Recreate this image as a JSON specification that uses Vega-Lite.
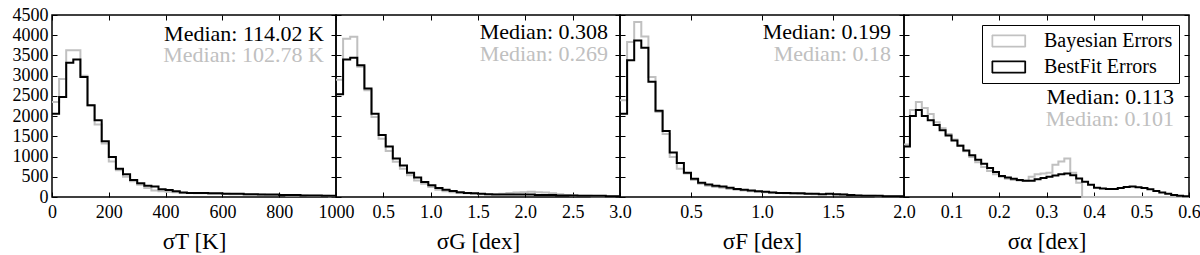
{
  "$schema": "https://vega.github.io/schema/vega-lite/v6.json",
  "padding": {"left": 11, "top": 5, "right": 0, "bottom": 0},
  "background": "white",
  "spacing": 0,
  "bounds": "flush",
  "resolve": {"scale": {"color": "independent"}, "legend": {"color": "independent"}},
  "config": {
    "font": "Liberation Serif",
    "view": {"stroke": "black", "strokeWidth": 1.5},
    "axis": {"domain": false, "grid": false, "ticks": true, "tickSize": -5, "tickColor": "black", "tickWidth": 1, "labelFont": "Liberation Serif", "labelFontSize": 18, "labelColor": "black", "labelFlush": false, "labelOverlap": false, "labelBound": false, "titleFont": "Liberation Serif", "titleFontSize": 23, "titleFontWeight": "normal", "titleColor": "black"},
    "axisX": {"labelPadding": 11, "titlePadding": 9},
    "axisY": {"labelPadding": 9},
    "legend": {"labelFont": "Liberation Serif"}
  },
  "datasets": {
    "hist": [
      {"p":1,"s":"Bayesian","x":0,"y":2350},{"p":1,"s":"Bayesian","x":25,"y":2920},{"p":1,"s":"Bayesian","x":50,"y":3630},{"p":1,"s":"Bayesian","x":75,"y":3630},{"p":1,"s":"Bayesian","x":100,"y":3000},{"p":1,"s":"Bayesian","x":125,"y":2260},{"p":1,"s":"Bayesian","x":150,"y":1790},{"p":1,"s":"Bayesian","x":175,"y":1320},{"p":1,"s":"Bayesian","x":200,"y":880},{"p":1,"s":"Bayesian","x":225,"y":660},{"p":1,"s":"Bayesian","x":250,"y":500},{"p":1,"s":"Bayesian","x":275,"y":390},{"p":1,"s":"Bayesian","x":300,"y":300},{"p":1,"s":"Bayesian","x":325,"y":220},{"p":1,"s":"Bayesian","x":350,"y":160},{"p":1,"s":"Bayesian","x":375,"y":140},{"p":1,"s":"Bayesian","x":400,"y":130},{"p":1,"s":"Bayesian","x":425,"y":120},{"p":1,"s":"Bayesian","x":450,"y":100},{"p":1,"s":"Bayesian","x":475,"y":100},{"p":1,"s":"Bayesian","x":500,"y":90},{"p":1,"s":"Bayesian","x":525,"y":90},{"p":1,"s":"Bayesian","x":550,"y":80},{"p":1,"s":"Bayesian","x":575,"y":80},{"p":1,"s":"Bayesian","x":600,"y":80},{"p":1,"s":"Bayesian","x":625,"y":70},{"p":1,"s":"Bayesian","x":650,"y":70},{"p":1,"s":"Bayesian","x":675,"y":60},{"p":1,"s":"Bayesian","x":700,"y":60},{"p":1,"s":"Bayesian","x":725,"y":60},{"p":1,"s":"Bayesian","x":750,"y":50},{"p":1,"s":"Bayesian","x":775,"y":50},{"p":1,"s":"Bayesian","x":800,"y":50},{"p":1,"s":"Bayesian","x":825,"y":40},{"p":1,"s":"Bayesian","x":850,"y":40},{"p":1,"s":"Bayesian","x":875,"y":40},{"p":1,"s":"Bayesian","x":900,"y":30},{"p":1,"s":"Bayesian","x":925,"y":30},{"p":1,"s":"Bayesian","x":950,"y":30},{"p":1,"s":"Bayesian","x":975,"y":20},{"p":1,"s":"Bayesian","x":1000,"y":20},
      {"p":1,"s":"BestFit","x":0,"y":2060},{"p":1,"s":"BestFit","x":25,"y":2470},{"p":1,"s":"BestFit","x":50,"y":3320},{"p":1,"s":"BestFit","x":75,"y":3400},{"p":1,"s":"BestFit","x":100,"y":2970},{"p":1,"s":"BestFit","x":125,"y":2270},{"p":1,"s":"BestFit","x":150,"y":1900},{"p":1,"s":"BestFit","x":175,"y":1380},{"p":1,"s":"BestFit","x":200,"y":990},{"p":1,"s":"BestFit","x":225,"y":700},{"p":1,"s":"BestFit","x":250,"y":560},{"p":1,"s":"BestFit","x":275,"y":420},{"p":1,"s":"BestFit","x":300,"y":340},{"p":1,"s":"BestFit","x":325,"y":280},{"p":1,"s":"BestFit","x":350,"y":260},{"p":1,"s":"BestFit","x":375,"y":190},{"p":1,"s":"BestFit","x":400,"y":170},{"p":1,"s":"BestFit","x":425,"y":140},{"p":1,"s":"BestFit","x":450,"y":110},{"p":1,"s":"BestFit","x":475,"y":100},{"p":1,"s":"BestFit","x":500,"y":100},{"p":1,"s":"BestFit","x":525,"y":100},{"p":1,"s":"BestFit","x":550,"y":90},{"p":1,"s":"BestFit","x":575,"y":90},{"p":1,"s":"BestFit","x":600,"y":80},{"p":1,"s":"BestFit","x":625,"y":80},{"p":1,"s":"BestFit","x":650,"y":80},{"p":1,"s":"BestFit","x":675,"y":70},{"p":1,"s":"BestFit","x":700,"y":70},{"p":1,"s":"BestFit","x":725,"y":60},{"p":1,"s":"BestFit","x":750,"y":60},{"p":1,"s":"BestFit","x":775,"y":60},{"p":1,"s":"BestFit","x":800,"y":50},{"p":1,"s":"BestFit","x":825,"y":50},{"p":1,"s":"BestFit","x":850,"y":50},{"p":1,"s":"BestFit","x":875,"y":40},{"p":1,"s":"BestFit","x":900,"y":40},{"p":1,"s":"BestFit","x":925,"y":40},{"p":1,"s":"BestFit","x":950,"y":30},{"p":1,"s":"BestFit","x":975,"y":30},{"p":1,"s":"BestFit","x":1000,"y":30},

      {"p":2,"s":"Bayesian","x":0,"y":2900},{"p":2,"s":"Bayesian","x":0.075,"y":3910},{"p":2,"s":"Bayesian","x":0.15,"y":3960},{"p":2,"s":"Bayesian","x":0.225,"y":3220},{"p":2,"s":"Bayesian","x":0.3,"y":2640},{"p":2,"s":"Bayesian","x":0.375,"y":1980},{"p":2,"s":"Bayesian","x":0.45,"y":1440},{"p":2,"s":"Bayesian","x":0.525,"y":1140},{"p":2,"s":"Bayesian","x":0.6,"y":870},{"p":2,"s":"Bayesian","x":0.675,"y":700},{"p":2,"s":"Bayesian","x":0.75,"y":540},{"p":2,"s":"Bayesian","x":0.825,"y":410},{"p":2,"s":"Bayesian","x":0.9,"y":330},{"p":2,"s":"Bayesian","x":0.975,"y":250},{"p":2,"s":"Bayesian","x":1.05,"y":180},{"p":2,"s":"Bayesian","x":1.125,"y":140},{"p":2,"s":"Bayesian","x":1.2,"y":115},{"p":2,"s":"Bayesian","x":1.275,"y":100},{"p":2,"s":"Bayesian","x":1.35,"y":90},{"p":2,"s":"Bayesian","x":1.425,"y":80},{"p":2,"s":"Bayesian","x":1.5,"y":70},{"p":2,"s":"Bayesian","x":1.575,"y":70},{"p":2,"s":"Bayesian","x":1.65,"y":70},{"p":2,"s":"Bayesian","x":1.725,"y":80},{"p":2,"s":"Bayesian","x":1.8,"y":100},{"p":2,"s":"Bayesian","x":1.875,"y":110},{"p":2,"s":"Bayesian","x":1.95,"y":120},{"p":2,"s":"Bayesian","x":2.025,"y":130},{"p":2,"s":"Bayesian","x":2.1,"y":120},{"p":2,"s":"Bayesian","x":2.175,"y":110},{"p":2,"s":"Bayesian","x":2.25,"y":90},{"p":2,"s":"Bayesian","x":2.325,"y":70},{"p":2,"s":"Bayesian","x":2.4,"y":50},{"p":2,"s":"Bayesian","x":2.475,"y":40},{"p":2,"s":"Bayesian","x":2.55,"y":30},{"p":2,"s":"Bayesian","x":2.625,"y":30},{"p":2,"s":"Bayesian","x":2.7,"y":20},{"p":2,"s":"Bayesian","x":2.775,"y":20},{"p":2,"s":"Bayesian","x":2.85,"y":20},{"p":2,"s":"Bayesian","x":2.925,"y":20},{"p":2,"s":"Bayesian","x":3.0,"y":20},
      {"p":2,"s":"BestFit","x":0,"y":2540},{"p":2,"s":"BestFit","x":0.075,"y":3400},{"p":2,"s":"BestFit","x":0.15,"y":3440},{"p":2,"s":"BestFit","x":0.225,"y":3260},{"p":2,"s":"BestFit","x":0.3,"y":2680},{"p":2,"s":"BestFit","x":0.375,"y":2060},{"p":2,"s":"BestFit","x":0.45,"y":1530},{"p":2,"s":"BestFit","x":0.525,"y":1250},{"p":2,"s":"BestFit","x":0.6,"y":950},{"p":2,"s":"BestFit","x":0.675,"y":780},{"p":2,"s":"BestFit","x":0.75,"y":600},{"p":2,"s":"BestFit","x":0.825,"y":480},{"p":2,"s":"BestFit","x":0.9,"y":370},{"p":2,"s":"BestFit","x":0.975,"y":290},{"p":2,"s":"BestFit","x":1.05,"y":220},{"p":2,"s":"BestFit","x":1.125,"y":180},{"p":2,"s":"BestFit","x":1.2,"y":150},{"p":2,"s":"BestFit","x":1.275,"y":120},{"p":2,"s":"BestFit","x":1.35,"y":100},{"p":2,"s":"BestFit","x":1.425,"y":90},{"p":2,"s":"BestFit","x":1.5,"y":80},{"p":2,"s":"BestFit","x":1.575,"y":70},{"p":2,"s":"BestFit","x":1.65,"y":60},{"p":2,"s":"BestFit","x":1.725,"y":60},{"p":2,"s":"BestFit","x":1.8,"y":60},{"p":2,"s":"BestFit","x":1.875,"y":60},{"p":2,"s":"BestFit","x":1.95,"y":60},{"p":2,"s":"BestFit","x":2.025,"y":60},{"p":2,"s":"BestFit","x":2.1,"y":50},{"p":2,"s":"BestFit","x":2.175,"y":50},{"p":2,"s":"BestFit","x":2.25,"y":50},{"p":2,"s":"BestFit","x":2.325,"y":40},{"p":2,"s":"BestFit","x":2.4,"y":40},{"p":2,"s":"BestFit","x":2.475,"y":40},{"p":2,"s":"BestFit","x":2.55,"y":30},{"p":2,"s":"BestFit","x":2.625,"y":30},{"p":2,"s":"BestFit","x":2.7,"y":30},{"p":2,"s":"BestFit","x":2.775,"y":30},{"p":2,"s":"BestFit","x":2.85,"y":20},{"p":2,"s":"BestFit","x":2.925,"y":20},{"p":2,"s":"BestFit","x":3.0,"y":20},

      {"p":3,"s":"Bayesian","x":0,"y":2390},{"p":3,"s":"Bayesian","x":0.05,"y":3830},{"p":3,"s":"Bayesian","x":0.1,"y":4330},{"p":3,"s":"Bayesian","x":0.15,"y":3970},{"p":3,"s":"Bayesian","x":0.2,"y":2970},{"p":3,"s":"Bayesian","x":0.25,"y":2100},{"p":3,"s":"Bayesian","x":0.3,"y":1560},{"p":3,"s":"Bayesian","x":0.35,"y":990},{"p":3,"s":"Bayesian","x":0.4,"y":700},{"p":3,"s":"Bayesian","x":0.45,"y":580},{"p":3,"s":"Bayesian","x":0.5,"y":420},{"p":3,"s":"Bayesian","x":0.55,"y":330},{"p":3,"s":"Bayesian","x":0.6,"y":280},{"p":3,"s":"Bayesian","x":0.65,"y":250},{"p":3,"s":"Bayesian","x":0.7,"y":230},{"p":3,"s":"Bayesian","x":0.75,"y":200},{"p":3,"s":"Bayesian","x":0.8,"y":180},{"p":3,"s":"Bayesian","x":0.85,"y":160},{"p":3,"s":"Bayesian","x":0.9,"y":140},{"p":3,"s":"Bayesian","x":0.95,"y":130},{"p":3,"s":"Bayesian","x":1.0,"y":120},{"p":3,"s":"Bayesian","x":1.05,"y":110},{"p":3,"s":"Bayesian","x":1.1,"y":100},{"p":3,"s":"Bayesian","x":1.15,"y":90},{"p":3,"s":"Bayesian","x":1.2,"y":90},{"p":3,"s":"Bayesian","x":1.25,"y":80},{"p":3,"s":"Bayesian","x":1.3,"y":80},{"p":3,"s":"Bayesian","x":1.35,"y":70},{"p":3,"s":"Bayesian","x":1.4,"y":70},{"p":3,"s":"Bayesian","x":1.45,"y":70},{"p":3,"s":"Bayesian","x":1.5,"y":60},{"p":3,"s":"Bayesian","x":1.55,"y":60},{"p":3,"s":"Bayesian","x":1.6,"y":50},{"p":3,"s":"Bayesian","x":1.65,"y":40},{"p":3,"s":"Bayesian","x":1.7,"y":30},{"p":3,"s":"Bayesian","x":1.75,"y":30},{"p":3,"s":"Bayesian","x":1.8,"y":20},{"p":3,"s":"Bayesian","x":1.85,"y":20},{"p":3,"s":"Bayesian","x":1.9,"y":20},{"p":3,"s":"Bayesian","x":1.95,"y":20},{"p":3,"s":"Bayesian","x":2.0,"y":20},
      {"p":3,"s":"BestFit","x":0,"y":2060},{"p":3,"s":"BestFit","x":0.05,"y":3380},{"p":3,"s":"BestFit","x":0.1,"y":3870},{"p":3,"s":"BestFit","x":0.15,"y":3690},{"p":3,"s":"BestFit","x":0.2,"y":2850},{"p":3,"s":"BestFit","x":0.25,"y":2130},{"p":3,"s":"BestFit","x":0.3,"y":1630},{"p":3,"s":"BestFit","x":0.35,"y":1100},{"p":3,"s":"BestFit","x":0.4,"y":840},{"p":3,"s":"BestFit","x":0.45,"y":600},{"p":3,"s":"BestFit","x":0.5,"y":450},{"p":3,"s":"BestFit","x":0.55,"y":350},{"p":3,"s":"BestFit","x":0.6,"y":310},{"p":3,"s":"BestFit","x":0.65,"y":280},{"p":3,"s":"BestFit","x":0.7,"y":260},{"p":3,"s":"BestFit","x":0.75,"y":230},{"p":3,"s":"BestFit","x":0.8,"y":200},{"p":3,"s":"BestFit","x":0.85,"y":180},{"p":3,"s":"BestFit","x":0.9,"y":160},{"p":3,"s":"BestFit","x":0.95,"y":140},{"p":3,"s":"BestFit","x":1.0,"y":130},{"p":3,"s":"BestFit","x":1.05,"y":110},{"p":3,"s":"BestFit","x":1.1,"y":100},{"p":3,"s":"BestFit","x":1.15,"y":100},{"p":3,"s":"BestFit","x":1.2,"y":90},{"p":3,"s":"BestFit","x":1.25,"y":90},{"p":3,"s":"BestFit","x":1.3,"y":80},{"p":3,"s":"BestFit","x":1.35,"y":80},{"p":3,"s":"BestFit","x":1.4,"y":70},{"p":3,"s":"BestFit","x":1.45,"y":80},{"p":3,"s":"BestFit","x":1.5,"y":70},{"p":3,"s":"BestFit","x":1.55,"y":60},{"p":3,"s":"BestFit","x":1.6,"y":50},{"p":3,"s":"BestFit","x":1.65,"y":40},{"p":3,"s":"BestFit","x":1.7,"y":30},{"p":3,"s":"BestFit","x":1.75,"y":30},{"p":3,"s":"BestFit","x":1.8,"y":30},{"p":3,"s":"BestFit","x":1.85,"y":20},{"p":3,"s":"BestFit","x":1.9,"y":20},{"p":3,"s":"BestFit","x":1.95,"y":20},{"p":3,"s":"BestFit","x":2.0,"y":20},

      {"p":4,"s":"Bayesian","x":0,"y":1300},{"p":4,"s":"Bayesian","x":0.0125,"y":2150},{"p":4,"s":"Bayesian","x":0.025,"y":2350},{"p":4,"s":"Bayesian","x":0.0375,"y":2200},{"p":4,"s":"Bayesian","x":0.05,"y":2050},{"p":4,"s":"Bayesian","x":0.0625,"y":1850},{"p":4,"s":"Bayesian","x":0.075,"y":1700},{"p":4,"s":"Bayesian","x":0.0875,"y":1560},{"p":4,"s":"Bayesian","x":0.1,"y":1420},{"p":4,"s":"Bayesian","x":0.1125,"y":1280},{"p":4,"s":"Bayesian","x":0.125,"y":1130},{"p":4,"s":"Bayesian","x":0.1375,"y":990},{"p":4,"s":"Bayesian","x":0.15,"y":860},{"p":4,"s":"Bayesian","x":0.1625,"y":740},{"p":4,"s":"Bayesian","x":0.175,"y":640},{"p":4,"s":"Bayesian","x":0.1875,"y":560},{"p":4,"s":"Bayesian","x":0.2,"y":500},{"p":4,"s":"Bayesian","x":0.2125,"y":450},{"p":4,"s":"Bayesian","x":0.225,"y":420},{"p":4,"s":"Bayesian","x":0.2375,"y":410},{"p":4,"s":"Bayesian","x":0.25,"y":400},{"p":4,"s":"Bayesian","x":0.2625,"y":500},{"p":4,"s":"Bayesian","x":0.275,"y":560},{"p":4,"s":"Bayesian","x":0.2875,"y":580},{"p":4,"s":"Bayesian","x":0.3,"y":600},{"p":4,"s":"Bayesian","x":0.3125,"y":800},{"p":4,"s":"Bayesian","x":0.325,"y":880},{"p":4,"s":"Bayesian","x":0.3375,"y":950},{"p":4,"s":"Bayesian","x":0.35,"y":600},{"p":4,"s":"Bayesian","x":0.3625,"y":350},{"p":4,"s":"Bayesian","x":0.375,"y":0},{"p":4,"s":"Bayesian","x":0.6,"y":0},
      {"p":4,"s":"BestFit","x":0,"y":1250},{"p":4,"s":"BestFit","x":0.0125,"y":2000},{"p":4,"s":"BestFit","x":0.025,"y":2150},{"p":4,"s":"BestFit","x":0.0375,"y":2000},{"p":4,"s":"BestFit","x":0.05,"y":1900},{"p":4,"s":"BestFit","x":0.0625,"y":1780},{"p":4,"s":"BestFit","x":0.075,"y":1650},{"p":4,"s":"BestFit","x":0.0875,"y":1520},{"p":4,"s":"BestFit","x":0.1,"y":1400},{"p":4,"s":"BestFit","x":0.1125,"y":1270},{"p":4,"s":"BestFit","x":0.125,"y":1150},{"p":4,"s":"BestFit","x":0.1375,"y":1030},{"p":4,"s":"BestFit","x":0.15,"y":920},{"p":4,"s":"BestFit","x":0.1625,"y":820},{"p":4,"s":"BestFit","x":0.175,"y":720},{"p":4,"s":"BestFit","x":0.1875,"y":620},{"p":4,"s":"BestFit","x":0.2,"y":520},{"p":4,"s":"BestFit","x":0.2125,"y":480},{"p":4,"s":"BestFit","x":0.225,"y":450},{"p":4,"s":"BestFit","x":0.2375,"y":420},{"p":4,"s":"BestFit","x":0.25,"y":400},{"p":4,"s":"BestFit","x":0.2625,"y":400},{"p":4,"s":"BestFit","x":0.275,"y":440},{"p":4,"s":"BestFit","x":0.2875,"y":470},{"p":4,"s":"BestFit","x":0.3,"y":500},{"p":4,"s":"BestFit","x":0.3125,"y":530},{"p":4,"s":"BestFit","x":0.325,"y":560},{"p":4,"s":"BestFit","x":0.3375,"y":580},{"p":4,"s":"BestFit","x":0.35,"y":540},{"p":4,"s":"BestFit","x":0.3625,"y":460},{"p":4,"s":"BestFit","x":0.375,"y":380},{"p":4,"s":"BestFit","x":0.3875,"y":300},{"p":4,"s":"BestFit","x":0.4,"y":230},{"p":4,"s":"BestFit","x":0.4125,"y":210},{"p":4,"s":"BestFit","x":0.425,"y":200},{"p":4,"s":"BestFit","x":0.4375,"y":200},{"p":4,"s":"BestFit","x":0.45,"y":220},{"p":4,"s":"BestFit","x":0.4625,"y":250},{"p":4,"s":"BestFit","x":0.475,"y":260},{"p":4,"s":"BestFit","x":0.4875,"y":240},{"p":4,"s":"BestFit","x":0.5,"y":220},{"p":4,"s":"BestFit","x":0.5125,"y":190},{"p":4,"s":"BestFit","x":0.525,"y":150},{"p":4,"s":"BestFit","x":0.5375,"y":110},{"p":4,"s":"BestFit","x":0.55,"y":80},{"p":4,"s":"BestFit","x":0.5625,"y":50},{"p":4,"s":"BestFit","x":0.575,"y":30},{"p":4,"s":"BestFit","x":0.5875,"y":20},{"p":4,"s":"BestFit","x":0.6,"y":20}
    ],
    "ann": [
      {"p":1,"s":"BestFit","x":1000,"y":4030,"t":"Median: 114.02 K"},
      {"p":1,"s":"Bayesian","x":1000,"y":3510,"t":"Median: 102.78 K"},
      {"p":2,"s":"BestFit","x":3.0,"y":4080,"t":"Median: 0.308"},
      {"p":2,"s":"Bayesian","x":3.0,"y":3540,"t":"Median: 0.269"},
      {"p":3,"s":"BestFit","x":2.0,"y":4080,"t":"Median: 0.199"},
      {"p":3,"s":"Bayesian","x":2.0,"y":3530,"t":"Median: 0.18"},
      {"p":4,"s":"BestFit","x":0.6,"y":2470,"t":"Median: 0.113"},
      {"p":4,"s":"Bayesian","x":0.6,"y":1930,"t":"Median: 0.101"}
    ]
  },
  "hconcat": [
    {
      "width": 284, "height": 182,
      "layer": [
        {"data": {"name": "hist"}, "transform": [{"filter": "datum.p == 1"}],
         "mark": {"type": "line", "interpolate": "step-after", "strokeWidth": 2},
         "encoding": {
           "x": {"field": "x", "type": "quantitative", "scale": {"domain": [0, 1000], "nice": false, "zero": false}, "axis": {"orient": "bottom", "values": [0,200,400,600,800,1000], "format": "d", "title": "σT [K]"}},
           "y": {"field": "y", "type": "quantitative", "scale": {"domain": [0, 4500], "nice": false}, "axis": {"orient": "left", "values": [0,500,1000,1500,2000,2500,3000,3500,4000,4500], "format": "d", "title": null}},
           "color": {"field": "s", "type": "nominal", "scale": {"domain": ["Bayesian", "BestFit"], "range": ["#c0c0c0", "#000000"]}, "legend": null}
         }},
        {"data": {"name": "hist"}, "transform": [{"filter": "datum.p == 1"}],
         "mark": {"type": "line", "strokeOpacity": 0},
         "encoding": {
           "x": {"field": "x", "type": "quantitative", "axis": {"orient": "top", "values": [0,200,400,600,800,1000], "labels": false, "title": null}},
           "y": {"field": "y", "type": "quantitative", "axis": {"orient": "right", "values": [0,500,1000,1500,2000,2500,3000,3500,4000,4500], "labels": false, "title": null}}
         }},
        {"data": {"name": "ann"}, "transform": [{"filter": "datum.p == 1"}],
         "mark": {"type": "text", "align": "right", "baseline": "middle", "fontSize": 22, "font": "Liberation Serif", "dx": -12},
         "encoding": {
           "x": {"field": "x", "type": "quantitative", "axis": null},
           "y": {"field": "y", "type": "quantitative", "axis": null},
           "text": {"field": "t"},
           "color": {"field": "s", "type": "nominal"}
         }}
      ],
      "resolve": {"axis": {"x": "independent", "y": "independent"}}
    },
    {
      "width": 284, "height": 182,
      "layer": [
        {"data": {"name": "hist"}, "transform": [{"filter": "datum.p == 2"}],
         "mark": {"type": "line", "interpolate": "step-after", "strokeWidth": 2},
         "encoding": {
           "x": {"field": "x", "type": "quantitative", "scale": {"domain": [0, 3], "nice": false, "zero": false}, "axis": {"orient": "bottom", "values": [0.5,1,1.5,2,2.5,3], "format": ".1f", "title": "σG [dex]"}},
           "y": {"field": "y", "type": "quantitative", "scale": {"domain": [0, 4500], "nice": false}, "axis": {"orient": "left", "values": [0,500,1000,1500,2000,2500,3000,3500,4000,4500], "labels": false, "title": null}},
           "color": {"field": "s", "type": "nominal", "scale": {"domain": ["Bayesian", "BestFit"], "range": ["#c0c0c0", "#000000"]}, "legend": null}
         }},
        {"data": {"name": "hist"}, "transform": [{"filter": "datum.p == 2"}],
         "mark": {"type": "line", "strokeOpacity": 0},
         "encoding": {
           "x": {"field": "x", "type": "quantitative", "axis": {"orient": "top", "values": [0.5,1,1.5,2,2.5], "labels": false, "title": null}},
           "y": {"field": "y", "type": "quantitative", "axis": {"orient": "right", "values": [0,500,1000,1500,2000,2500,3000,3500,4000,4500], "labels": false, "title": null}}
         }},
        {"data": {"name": "ann"}, "transform": [{"filter": "datum.p == 2"}],
         "mark": {"type": "text", "align": "right", "baseline": "middle", "fontSize": 22, "font": "Liberation Serif", "dx": -12},
         "encoding": {
           "x": {"field": "x", "type": "quantitative", "axis": null},
           "y": {"field": "y", "type": "quantitative", "axis": null},
           "text": {"field": "t"},
           "color": {"field": "s", "type": "nominal"}
         }}
      ],
      "resolve": {"axis": {"x": "independent", "y": "independent"}}
    },
    {
      "width": 284, "height": 182,
      "layer": [
        {"data": {"name": "hist"}, "transform": [{"filter": "datum.p == 3"}],
         "mark": {"type": "line", "interpolate": "step-after", "strokeWidth": 2},
         "encoding": {
           "x": {"field": "x", "type": "quantitative", "scale": {"domain": [0, 2], "nice": false, "zero": false}, "axis": {"orient": "bottom", "values": [0.5,1,1.5,2], "format": ".1f", "title": "σF [dex]"}},
           "y": {"field": "y", "type": "quantitative", "scale": {"domain": [0, 4500], "nice": false}, "axis": {"orient": "left", "values": [0,500,1000,1500,2000,2500,3000,3500,4000,4500], "labels": false, "title": null}},
           "color": {"field": "s", "type": "nominal", "scale": {"domain": ["Bayesian", "BestFit"], "range": ["#c0c0c0", "#000000"]}, "legend": null}
         }},
        {"data": {"name": "hist"}, "transform": [{"filter": "datum.p == 3"}],
         "mark": {"type": "line", "strokeOpacity": 0},
         "encoding": {
           "x": {"field": "x", "type": "quantitative", "axis": {"orient": "top", "values": [0.5,1,1.5], "labels": false, "title": null}},
           "y": {"field": "y", "type": "quantitative", "axis": {"orient": "right", "values": [0,500,1000,1500,2000,2500,3000,3500,4000,4500], "labels": false, "title": null}}
         }},
        {"data": {"name": "ann"}, "transform": [{"filter": "datum.p == 3"}],
         "mark": {"type": "text", "align": "right", "baseline": "middle", "fontSize": 22, "font": "Liberation Serif", "dx": -13},
         "encoding": {
           "x": {"field": "x", "type": "quantitative", "axis": null},
           "y": {"field": "y", "type": "quantitative", "axis": null},
           "text": {"field": "t"},
           "color": {"field": "s", "type": "nominal"}
         }}
      ],
      "resolve": {"axis": {"x": "independent", "y": "independent"}}
    },
    {
      "width": 285, "height": 182,
      "layer": [
        {"data": {"name": "hist"}, "transform": [{"filter": "datum.p == 4"}],
         "mark": {"type": "line", "interpolate": "step-after", "strokeWidth": 2},
         "encoding": {
           "x": {"field": "x", "type": "quantitative", "scale": {"domain": [0, 0.6], "nice": false, "zero": false}, "axis": {"orient": "bottom", "values": [0.1,0.2,0.3,0.4,0.5,0.6], "format": ".1f", "title": "σα [dex]"}},
           "y": {"field": "y", "type": "quantitative", "scale": {"domain": [0, 4500], "nice": false}, "axis": {"orient": "left", "values": [0,500,1000,1500,2000,2500,3000,3500,4000,4500], "labels": false, "title": null}},
           "color": {"field": "s", "type": "nominal", "scale": {"domain": ["Bayesian", "BestFit"], "range": ["#c0c0c0", "#000000"]},
             "legend": {"orient": "top-right", "offset": 10, "title": null, "labelExpr": "datum.label + ' Errors'", "symbolType": "M-1,-1H4.6V1H-1ZM-0.88,-0.88V0.88H4.48V-0.88Z", "symbolSize": 144, "symbolStrokeWidth": 1, "labelFontSize": 20, "labelFont": "Liberation Serif", "labelColor": "black", "labelOffset": 36, "strokeColor": "black", "fillColor": "white", "padding": 6, "rowPadding": 6}}
         }},
        {"data": {"name": "hist"}, "transform": [{"filter": "datum.p == 4"}],
         "mark": {"type": "line", "strokeOpacity": 0},
         "encoding": {
           "x": {"field": "x", "type": "quantitative", "axis": {"orient": "top", "values": [0.1,0.2,0.3,0.4,0.5], "labels": false, "title": null}},
           "y": {"field": "y", "type": "quantitative", "axis": {"orient": "right", "values": [0,500,1000,1500,2000,2500,3000,3500,4000,4500], "labels": false, "title": null}}
         }},
        {"data": {"name": "ann"}, "transform": [{"filter": "datum.p == 4"}],
         "mark": {"type": "text", "align": "right", "baseline": "middle", "fontSize": 22, "font": "Liberation Serif", "dx": -15},
         "encoding": {
           "x": {"field": "x", "type": "quantitative", "axis": null},
           "y": {"field": "y", "type": "quantitative", "axis": null},
           "text": {"field": "t"},
           "color": {"field": "s", "type": "nominal"}
         }}
      ],
      "resolve": {"axis": {"x": "independent", "y": "independent"}}
    }
  ]
}
